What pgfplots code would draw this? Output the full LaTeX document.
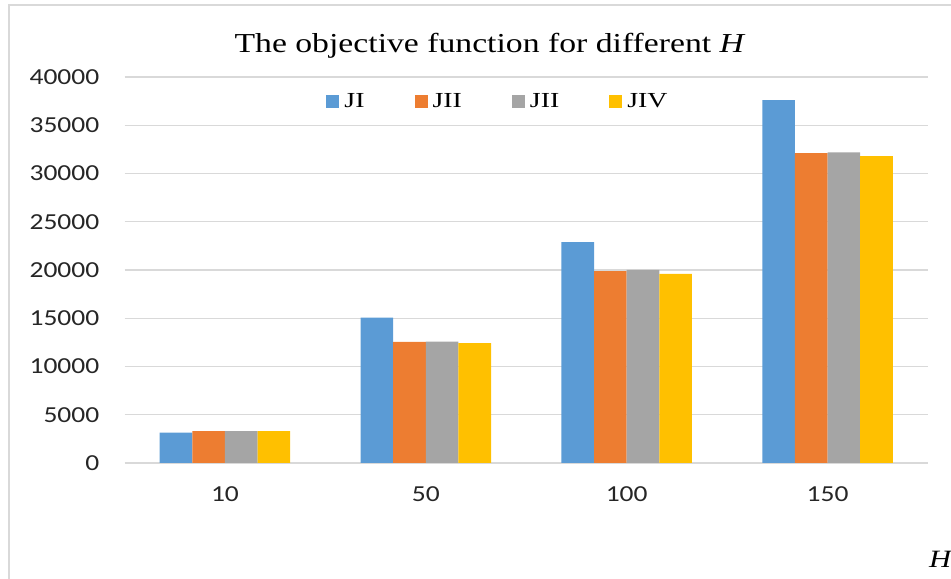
\documentclass[border=0pt]{standalone}
\usepackage{fontspec}
\setmainfont{Liberation Serif}
\newfontfamily\tickfont[FakeStretch=1.2]{Carlito}
\newfontfamily\titlefont[FakeStretch=1.23]{Liberation Serif}
\newfontfamily\legfont[FakeStretch=1.3]{Liberation Serif}
\usepackage{pgfplots}
\pgfplotsset{compat=1.18}
\definecolor{cA}{HTML}{5B9BD5}
\definecolor{cB}{HTML}{ED7D31}
\definecolor{cC}{HTML}{A5A5A5}
\definecolor{cD}{HTML}{FFC000}
\definecolor{gridc}{HTML}{D9D9D9}
\begin{document}
\begin{tikzpicture}[x=1bp,y=1bp]
\useasboundingbox (0,0) rectangle (951,579);
\draw[color=gridc, line width=1.5bp] (9,-5) -- (9,574) -- (965,574);
\begin{axis}[
  at={(124.5bp,116bp)}, anchor=south west,
  scale only axis, width=803.5bp, height=386bp,
  xmin=-0.5, xmax=3.5, ymin=0, ymax=40000,
  ybar=0pt, bar width=32.6bp,
  axis line style={draw=none},
  major tick length=0pt,
  xtick={0,1,2,3}, xticklabels={10,50,100,150},
  ytick={0,5000,...,40000},
  scaled y ticks=false,
  /pgf/number format/1000 sep={},
  /pgf/number format/assume math mode=true,
  ymajorgrids, major grid style={draw=gridc, line width=1.3bp},
  tick label style={font=\fontsize{23}{23}\tickfont, text=black!85},
  yticklabel style={anchor=east, inner sep=0pt, xshift=-25bp},
  xticklabel style={anchor=center, inner sep=0pt, yshift=-31.5bp},
  legend columns=4,
  legend style={at={(axis description cs:0.4655,0.937)}, anchor=center,
    draw=none, fill=none, font=\fontsize{21.5}{21.5}\legfont,
    nodes={inner sep=3bp},
    /tikz/every even column/.append style={column sep=47bp}},
  legend image code/.code={\fill (0bp,-6.5bp) rectangle (13bp,6.5bp); \path (15bp,0bp);},
]
\addplot[fill=cA, draw=none] coordinates {(0,3150) (1,15070) (2,22900) (3,37600)};
\addplot[fill=cB, draw=none] coordinates {(0,3300) (1,12550) (2,19870) (3,32100)};
\addplot[fill=cC, draw=none] coordinates {(0,3300) (1,12580) (2,20000) (3,32200)};
\addplot[fill=cD, draw=none] coordinates {(0,3300) (1,12420) (2,19600) (3,31800)};
\legend{JI,JII,JII,JIV}
\end{axis}
\node[anchor=base, inner sep=0pt] at (490,526) {\fontsize{27.5}{27.5}\titlefont The objective function for different \textit{H}};
\node[anchor=base west, inner sep=0pt] at (929,11) {\fontsize{25}{25}\titlefont\itshape H};
\end{tikzpicture}
\end{document}
